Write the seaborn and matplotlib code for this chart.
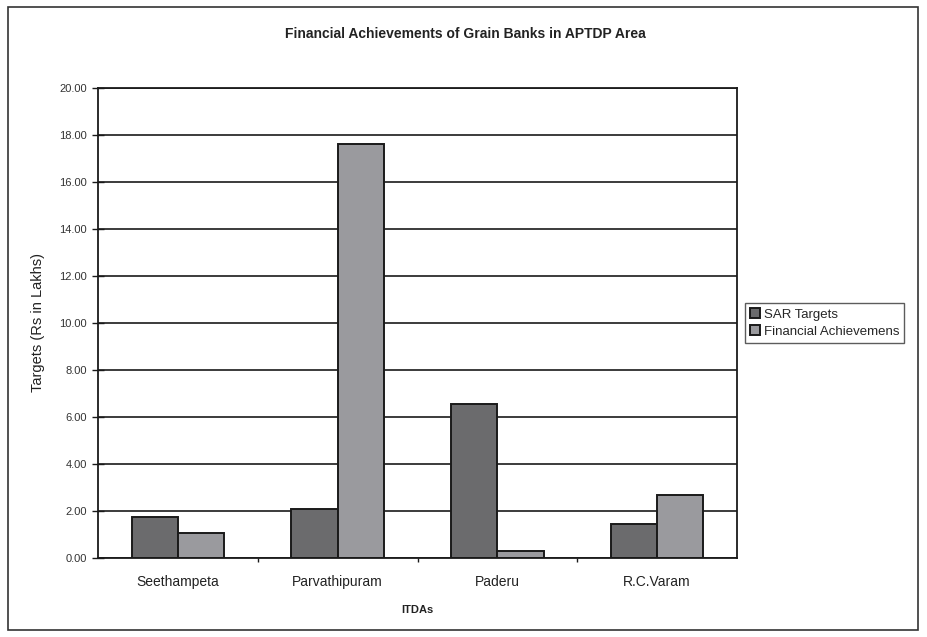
import matplotlib
matplotlib.use("Agg")
import matplotlib.pyplot as plt
from matplotlib.patches import Rectangle
import seaborn as sns
import pandas as pd

itdas = ["Seethampeta", "Parvathipuram", "Paderu", "R.C.Varam"]
sar_targets = [1.75, 2.10, 6.55, 1.45]
financial_achievements = [1.05, 17.60, 0.30, 2.68]
series_names = ["SAR Targets", "Financial Achievemens"]
y_ticks = [0, 2, 4, 6, 8, 10, 12, 14, 16, 18, 20]

df = pd.DataFrame({
    "ITDA": itdas * 2,
    "value": sar_targets + financial_achievements,
    "series": [series_names[0]] * len(itdas) + [series_names[1]] * len(itdas),
})

sns.set_theme(style="white")
plt.rcParams["font.family"] = ["Liberation Sans", "DejaVu Sans"]

fig = plt.figure(figsize=(9.28, 6.37), dpi=100)
ax = fig.add_axes([98 / 928, 1 - 558 / 637, (737 - 98) / 928, (558 - 88) / 637])

palette = {series_names[0]: "#6b6b6d", series_names[1]: "#9a9a9e"}
sns.barplot(data=df, x="ITDA", y="value", hue="series", order=itdas,
            hue_order=series_names, palette=palette, width=0.58, gap=0,
            edgecolor="#1a1a1a", linewidth=1.4, saturation=1, ax=ax)

ax.set_ylim(0, 20)
ax.set_xlim(-0.5, 3.5)
ax.set_yticks(y_ticks)
ax.set_yticklabels([f"{v:.2f}" for v in y_ticks], fontsize=8, color="#333333")
ax.yaxis.grid(True, color="#1a1a1a", linewidth=1.2)
ax.set_axisbelow(True)
ax.tick_params(axis="y", direction="inout", length=8, width=1.0, color="#1a1a1a", pad=4, left=True)
ax.tick_params(axis="x", length=0, labelsize=10, pad=12)
ax.set_xticks([0.5, 1.5, 2.5], minor=True)
ax.tick_params(axis="x", which="minor", direction="out", length=3, width=1.0, color="#1a1a1a", bottom=True)
for lab in ax.get_xticklabels():
    lab.set_color("#222222")

for side in ["left", "right", "top", "bottom"]:
    ax.spines[side].set_visible(True)
    ax.spines[side].set_color("#1a1a1a")
    ax.spines[side].set_linewidth(1.3)

ax.set_xlabel("ITDAs", fontsize=8, fontweight="bold", labelpad=12, color="#222222")
ax.set_ylabel("Targets (Rs in Lakhs)", fontsize=10.5, labelpad=10, color="#222222")

fig.suptitle("Financial Achievements of Grain Banks in APTDP Area", x=0.502, y=0.958,
             fontsize=10, fontweight="bold", color="#222222")

leg = ax.legend(loc="center left", bbox_to_anchor=(1.0, 0.5), fontsize=9.5,
                frameon=True, fancybox=False, edgecolor="#333333",
                handlelength=0.8, handleheight=0.8, handletextpad=0.3,
                borderpad=0.35, labelspacing=0.35, borderaxespad=0.6)
leg.get_frame().set_linewidth(1.0)

# outer chart border
fig.patches.append(Rectangle((8 / 928, 7 / 637), 910 / 928, 623 / 637,
                             transform=fig.transFigure, fill=False,
                             edgecolor="#333333", linewidth=1.2))

fig.savefig("out.png", dpi=100, facecolor="white")
